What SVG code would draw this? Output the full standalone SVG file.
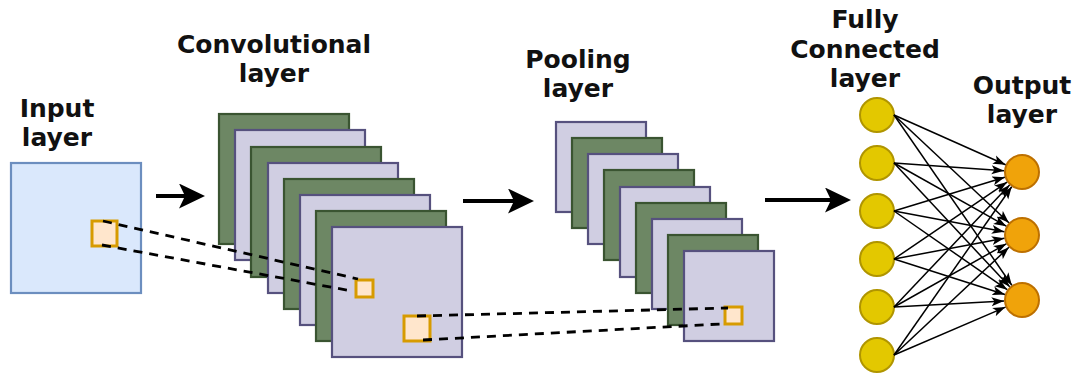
<svg xmlns="http://www.w3.org/2000/svg" width="1078" height="374" viewBox="0 0 1078 374">
<style>
.lbl{font-family:"DejaVu Sans","Liberation Sans",sans-serif;font-weight:bold;font-size:25px;fill:#111;text-anchor:middle}
.inp{fill:#dae8fc;stroke:#6c8ebf;stroke-width:2.2}
.grn{fill:#6d8764;stroke:#3a5431;stroke-width:2.2}
.pur{fill:#d0cee2;stroke:#56517e;stroke-width:2.2}
.win{fill:#ffe6cc;stroke:#d79b00;stroke-width:3}
.fc{fill:#e3c800;stroke:#b09500;stroke-width:2}
.out{fill:#f0a30a;stroke:#bd7000;stroke-width:2}
.dash{fill:none;stroke:#000;stroke-width:2.8;stroke-dasharray:9 7}
.big{fill:none;stroke:#000;stroke-width:4}
.edge{fill:none;stroke:#000;stroke-width:1.5}
</style>
<defs>
<marker id="bigHead" markerUnits="userSpaceOnUse" markerWidth="27" markerHeight="25" viewBox="0 0 27 25" refX="6" refY="12.5" orient="auto">
<path d="M0,0 L26,12.5 L0,25 L6,12.5 Z" fill="#000"/>
</marker>
<marker id="smallHead" markerUnits="userSpaceOnUse" markerWidth="13" markerHeight="10" viewBox="0 0 13 10" refX="12.5" refY="5" orient="auto">
<path d="M0,0.5 L12.5,5 L0,9.5 L3,5 Z" fill="#000"/>
</marker>
</defs>

<g id="input-layer">
<text class="lbl" x="57" y="117">Input</text>
<text class="lbl" x="57" y="146">layer</text>
<rect class="inp" x="11" y="163" width="130" height="130"/>
<rect class="win" x="92" y="221" width="25" height="25"/>
</g>

<g id="conv-layer">
<text class="lbl" x="274" y="53">Convolutional</text>
<text class="lbl" x="274" y="82">layer</text>
<rect class="grn" x="219" y="114" width="130" height="130"/>
<rect class="pur" x="235" y="130" width="130" height="130"/>
<rect class="grn" x="251" y="147" width="130" height="130"/>
<rect class="pur" x="268" y="163" width="130" height="130"/>
<rect class="grn" x="284" y="179" width="130" height="130"/>
<rect class="pur" x="300" y="195" width="130" height="130"/>
<rect class="grn" x="316" y="211" width="130" height="130"/>
<rect class="pur" x="332" y="227" width="130" height="130"/>
<rect class="win" x="356" y="280" width="17" height="17"/>
<rect class="win" x="404" y="316" width="26" height="25"/>
</g>

<g id="pooling-layer">
<text class="lbl" x="578" y="68">Pooling</text>
<text class="lbl" x="578" y="97">layer</text>
<rect class="pur" x="556" y="122" width="90" height="90"/>
<rect class="grn" x="572" y="138" width="90" height="90"/>
<rect class="pur" x="588" y="154" width="90" height="90"/>
<rect class="grn" x="604" y="170" width="90" height="90"/>
<rect class="pur" x="620" y="187" width="90" height="90"/>
<rect class="grn" x="636" y="203" width="90" height="90"/>
<rect class="pur" x="652" y="219" width="90" height="90"/>
<rect class="grn" x="668" y="235" width="90" height="90"/>
<rect class="pur" x="684" y="251" width="90" height="90"/>
<rect class="win" x="725" y="307" width="17" height="17"/>
</g>

<g id="fc-layer">
<text class="lbl" x="865" y="28">Fully</text>
<text class="lbl" x="865" y="58">Connected</text>
<text class="lbl" x="865" y="87">layer</text>
<circle id="fc1" class="fc" cx="877" cy="115" r="17"/>
<circle id="fc2" class="fc" cx="877" cy="163" r="17"/>
<circle id="fc3" class="fc" cx="877" cy="211" r="17"/>
<circle id="fc4" class="fc" cx="877" cy="259" r="17"/>
<circle id="fc5" class="fc" cx="877" cy="307" r="17"/>
<circle id="fc6" class="fc" cx="877" cy="355" r="17"/>
</g>

<g id="output-layer">
<text class="lbl" x="1022" y="94">Output</text>
<text class="lbl" x="1022" y="123">layer</text>
<circle id="o1" class="out" cx="1022" cy="172" r="17"/>
<circle id="o2" class="out" cx="1022" cy="235" r="17"/>
<circle id="o3" class="out" cx="1022" cy="300" r="17"/>
</g>

<g id="connectors">
<line class="big" x1="156" y1="196" x2="185" y2="196" marker-end="url(#bigHead)"/>
<line class="big" x1="463" y1="201" x2="514" y2="201" marker-end="url(#bigHead)"/>
<line class="big" x1="765" y1="200" x2="831" y2="200" marker-end="url(#bigHead)"/>

<line class="dash" x1="103" y1="221" x2="358" y2="279"/>
<line class="dash" x1="102" y1="245" x2="352" y2="291"/>
<line class="dash" x1="417" y1="316" x2="728" y2="308"/>
<line class="dash" x1="423" y1="340" x2="720" y2="324"/>

<line class="edge" x1="894" y1="115" x2="1005.6" y2="164.7" marker-end="url(#smallHead)"/>
<line class="edge" x1="894" y1="115" x2="1008.9" y2="222.7" marker-end="url(#smallHead)"/>
<line class="edge" x1="894" y1="115" x2="1011.8" y2="285.2" marker-end="url(#smallHead)"/>
<line class="edge" x1="894" y1="163" x2="1004.0" y2="170.7" marker-end="url(#smallHead)"/>
<line class="edge" x1="894" y1="163" x2="1006.3" y2="226.2" marker-end="url(#smallHead)"/>
<line class="edge" x1="894" y1="163" x2="1009.7" y2="286.8" marker-end="url(#smallHead)"/>
<line class="edge" x1="894" y1="211" x2="1004.8" y2="177.2" marker-end="url(#smallHead)"/>
<line class="edge" x1="894" y1="211" x2="1004.3" y2="231.7" marker-end="url(#smallHead)"/>
<line class="edge" x1="894" y1="211" x2="1007.2" y2="289.7" marker-end="url(#smallHead)"/>
<line class="edge" x1="894" y1="259" x2="1007.1" y2="182.1" marker-end="url(#smallHead)"/>
<line class="edge" x1="894" y1="259" x2="1004.3" y2="238.3" marker-end="url(#smallHead)"/>
<line class="edge" x1="894" y1="259" x2="1004.9" y2="294.5" marker-end="url(#smallHead)"/>
<line class="edge" x1="894" y1="307" x2="1009.6" y2="185.1" marker-end="url(#smallHead)"/>
<line class="edge" x1="894" y1="307" x2="1006.3" y2="243.8" marker-end="url(#smallHead)"/>
<line class="edge" x1="894" y1="307" x2="1004.0" y2="301.0" marker-end="url(#smallHead)"/>
<line class="edge" x1="894" y1="355" x2="1011.7" y2="186.8" marker-end="url(#smallHead)"/>
<line class="edge" x1="894" y1="355" x2="1008.9" y2="247.3" marker-end="url(#smallHead)"/>
<line class="edge" x1="894" y1="355" x2="1005.5" y2="307.1" marker-end="url(#smallHead)"/>
</g>
</svg>
